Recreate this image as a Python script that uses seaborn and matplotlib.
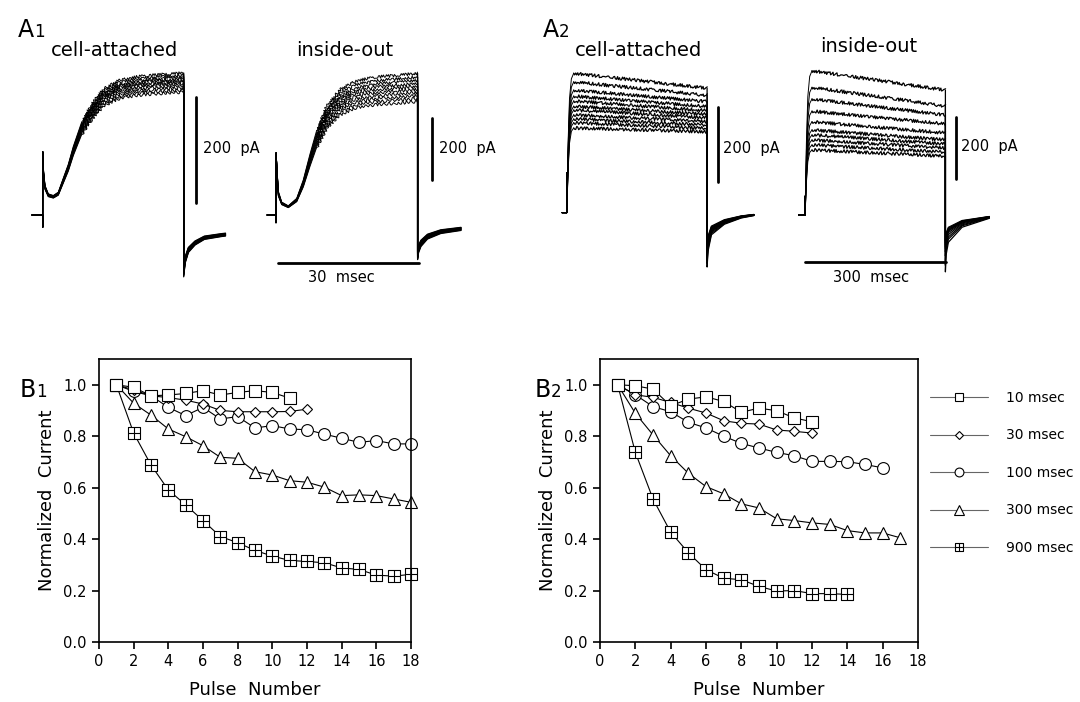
import numpy as np
import pandas as pd
import matplotlib
matplotlib.use("Agg")
import matplotlib.pyplot as plt
import seaborn as sns
from matplotlib.path import Path
from matplotlib.lines import Line2D

W, H = 1080, 702

# ---------------- B panels: normalized current vs pulse number ----------------
durations = ["10 msec", "30 msec", "100 msec", "300 msec", "900 msec"]

b1_10 = [1.0, 0.99, 0.957, 0.96, 0.966, 0.977, 0.96, 0.97, 0.977, 0.97, 0.948]
b1_30 = [1.0, 0.98, 0.957, 0.95, 0.94, 0.925, 0.90, 0.895, 0.895, 0.895, 0.896, 0.905]
b1_100 = [1.0, 0.974, 0.957, 0.912, 0.88, 0.912, 0.867, 0.876, 0.832, 0.841, 0.828,
          0.825, 0.808, 0.792, 0.776, 0.783, 0.77, 0.77]
b1_300 = [1.0, 0.928, 0.882, 0.828, 0.798, 0.763, 0.718, 0.714, 0.662, 0.649, 0.627,
          0.621, 0.602, 0.569, 0.572, 0.569, 0.556, 0.543]
b1_900 = [1.0, 0.812, 0.688, 0.591, 0.533, 0.472, 0.41, 0.386, 0.356, 0.334, 0.317,
          0.313, 0.308, 0.288, 0.282, 0.26, 0.256, 0.263]

b2_10 = [1.0, 0.996, 0.983, 0.918, 0.944, 0.953, 0.935, 0.893, 0.909, 0.899, 0.871, 0.856]
b2_30 = [1.0, 0.961, 0.951, 0.931, 0.909, 0.89, 0.86, 0.85, 0.847, 0.824, 0.819, 0.812]
b2_100 = [1.0, 0.961, 0.915, 0.895, 0.854, 0.832, 0.8, 0.772, 0.754, 0.737, 0.724,
          0.702, 0.702, 0.701, 0.69, 0.677]
b2_300 = [1.0, 0.889, 0.805, 0.724, 0.656, 0.604, 0.576, 0.537, 0.521, 0.479, 0.472,
          0.463, 0.457, 0.433, 0.424, 0.424, 0.405]
b2_900 = [1.0, 0.737, 0.556, 0.427, 0.347, 0.281, 0.248, 0.242, 0.216, 0.198, 0.2,
          0.188, 0.188, 0.185]

# ---------------- A panels: current traces (time in ms, current in pA) ----------------
# A1 cell-attached, 30 msec pulses
a1_ca_t = [0.13, 0.49, 1.19, 2.26, 3.32, 4.38, 5.45, 6.51, 8.3, 10.4, 12.9, 16.4, 20.0, 23.5, 30.0]
a1_ca_i = [85, 53, 38, 35, 41, 66, 91, 123, 167, 198, 226, 242, 248, 251, 255]
a1_ca_levels = [268, 264, 260, 257, 254, 251, 248, 244, 240, 236, 232]
a1_ca_cap = [-23, 119]
a1_ca_tail_dt = [0, 0.3, 1.0, 2.4, 4.4, 8.0, 8.9]
a1_ca_tail_i = [-109, -85, -66, -53, -43, -38, -37]

# A1 inside-out
a1_io_t = [0.49, 1.21, 2.61, 4.39, 5.78, 7.2, 8.62, 10.74, 13.5, 17.0, 21.3, 25.5, 30.0]
a1_io_i = [70, 38, 27, 49, 103, 179, 249, 319, 368, 395, 406, 411, 417]
a1_io_levels = [460, 448, 437, 427, 418, 408, 398, 388, 378, 368]
a1_io_cap = [-25, 202]
a1_io_tail_dt = [0, 0.2, 0.7, 2.1, 4.9, 9.2]
a1_io_tail_i = [-130, -110, -92, -70, -54, -45]

# A2, 300 msec pulses: onset shape as fraction of the initial level
a2_rise_t = [0, 1, 3, 6, 10, 15]
a2_rise_frac = [0, 0.15, 0.5, 0.82, 0.96, 1.0]

# A2 cell-attached
a2_ca_start = [372, 349, 327, 311, 298, 284, 274, 261, 250, 240, 226]
a2_ca_end = [332, 313, 296, 283, 272, 262, 253, 243, 234, 225, 216]
a2_ca_cap = 106
a2_ca_tail_dt = [0, 2, 9.2, 37, 73, 100]
a2_ca_tail_i = [-113, -80, -46, -24, -11, -6]

# A2 inside-out
a2_io_start = [461, 408, 371, 332, 298, 272, 256, 240, 224, 208]
a2_io_end = [399, 348, 319, 291, 262, 240, 227, 214, 201, 188]
a2_io_cap = 60
a2_io_tail_dt = [0, 1.5, 6.4, 35.7, 94]
a2_io_tail_i = [-121, -85, -58, -26, -7]

# ---------------- style ----------------
sns.set_style("ticks")
plt.rcParams["font.family"] = ["DejaVu Sans"]
plt.rcParams["axes.linewidth"] = 1.2
for key in ["text.color", "axes.labelcolor", "xtick.color", "ytick.color", "axes.edgecolor"]:
    plt.rcParams[key] = "black"

fig = plt.figure(figsize=(W / 100, H / 100), dpi=100)


def ftext(x, y, s, **kw):
    return fig.text(x / W, 1 - y / H, s, **kw)


def trace_axes(t0_px, base_px, px_ms, px_pA):
    ax = fig.add_axes([0, 0, 1, 1])
    ax.set_xlim(-t0_px / px_ms, (W - t0_px) / px_ms)
    ax.set_ylim((base_px - H) / px_pA, base_px / px_pA)
    ax.set_axis_off()
    ax.patch.set_alpha(0)
    return ax


def draw_a1(ax, t, cur, levels, cap, pre_t, tail_dt, tail_i, split=8.0):
    ref = cur[-1]
    mean_lv = np.mean(levels)
    k = int(np.searchsorted(t, split))
    for n, lv in enumerate(levels):
        f = lv / ref
        ii = [v * f for v in cur]
        ax.plot([pre_t, 0, 0, 0.02] + t[:k + 1], [0, 0, cap[0], cap[1]] + ii[:k + 1],
                color="black", lw=0.7)
        ln, = ax.plot(t[k:], ii[k:], color="black", lw=0.7)
        ln.set_sketch_params(1.5, 2.2 + 0.25 * n, 2)
        g = lv / mean_lv
        te = t[-1]
        ax.plot([te] + [te + d for d in tail_dt], [ii[-1]] + [v * g for v in tail_i],
                color="black", lw=0.9)


def draw_a2(ax, start, end, cap, pre_t, tail_dt, tail_i, t_end=300):
    mean_s = np.mean(start)
    for n, (s, e) in enumerate(zip(start, end)):
        ax.plot([pre_t, 0, 0, 0.3], [0, 0, cap, cap * 0.6], color="black", lw=0.7)
        ax.plot(a2_rise_t, [f * s for f in a2_rise_frac], color="black", lw=0.7)
        ln, = ax.plot([a2_rise_t[-1], t_end], [s, e], color="black", lw=0.9)
        ln.set_sketch_params(1.6, 2.0 + 0.15 * n, 2)
        g = s / mean_s
        ax.plot([t_end] + [t_end + d for d in tail_dt], [e] + [v * g for v in tail_i],
                color="black", lw=0.9)


# A1 cell-attached
ax = trace_axes(42.7, 215, 4.7, 0.53)
draw_a1(ax, a1_ca_t, a1_ca_i, a1_ca_levels, a1_ca_cap, -2.3, a1_ca_tail_dt, a1_ca_tail_i)
ax.plot([32.6, 32.6], [23, 223], color="black", lw=2)

# A1 inside-out
ax = trace_axes(276, 215, 4.72, 0.308)
draw_a1(ax, a1_io_t, a1_io_i, a1_io_levels, a1_io_cap, -1.9, a1_io_tail_dt, a1_io_tail_i)
ax.plot([33.0, 33.0], [114, 314], color="black", lw=2)
ax.plot([0.36, 30.36], [-157, -157], color="black", lw=2)

# A2 cell-attached
ax = trace_axes(566.7, 212.7, 0.468, 0.375)
draw_a2(ax, a2_ca_start, a2_ca_end, a2_ca_cap, -10, a2_ca_tail_dt, a2_ca_tail_i)
ax.plot([323, 323], [83, 283], color="black", lw=2)

# A2 inside-out
ax = trace_axes(805, 215, 0.468, 0.313)
draw_a2(ax, a2_io_start, a2_io_end, a2_io_cap, -14, a2_io_tail_dt, a2_io_tail_i)
ax.plot([323, 323], [114, 314], color="black", lw=2)
ax.plot([1, 301], [-151, -151], color="black", lw=2)

# A texts
ftext(18, 37, "A", fontsize=17, va="baseline")
ftext(34, 37, "1", fontsize=12, va="baseline")
ftext(543, 37, "A", fontsize=17, va="baseline")
ftext(559, 37, "2", fontsize=12, va="baseline")
for x, y, s in [(115, 50, "cell-attached"), (345, 50, "inside-out"),
                (639, 50, "cell-attached"), (869, 47, "inside-out")]:
    ftext(x, y, s, fontsize=14, ha="center", va="center")
for x, y in [(203, 148), (439, 148), (723, 148), (961, 147)]:
    ftext(x, y, "200  pA", fontsize=10.5, ha="left", va="center")
ftext(341, 278, "30  msec", fontsize=10.5, ha="center", va="center")
ftext(871, 278, "300  msec", fontsize=10.5, ha="center", va="center")

# ---------------- B panels ----------------
sq_plus = Path([(-1, -1), (1, -1), (1, 1), (-1, 1), (-1, -1), (0, -1), (0, 1), (-1, 0), (1, 0)],
               [Path.MOVETO, Path.LINETO, Path.LINETO, Path.LINETO, Path.CLOSEPOLY,
                Path.MOVETO, Path.LINETO, Path.MOVETO, Path.LINETO])
markers = {"10 msec": "s", "30 msec": "D", "100 msec": "o", "300 msec": "^", "900 msec": sq_plus}
msizes = {"10 msec": 8, "30 msec": 5.6, "100 msec": 8.5, "300 msec": 9, "900 msec": 8}


def long_table(series):
    rows = []
    for lab, vals in zip(durations, series):
        for n, v in enumerate(vals, start=1):
            rows.append({"pulse": n, "norm": v, "duration": lab})
    return pd.DataFrame(rows)


df_b1 = long_table([b1_10, b1_30, b1_100, b1_300, b1_900])
df_b2 = long_table([b2_10, b2_30, b2_100, b2_300, b2_900])

axes_b = [fig.add_axes([99 / W, 1 - 642 / H, 312 / W, 283 / H]),
          fig.add_axes([600 / W, 1 - 642 / H, 318 / W, 283 / H])]

for ax, df in zip(axes_b, [df_b1, df_b2]):
    for lab in durations[::-1]:
        sub = df[df["duration"] == lab]
        sns.lineplot(data=sub, x="pulse", y="norm", ax=ax, color="black", lw=0.8,
                     marker=markers[lab], markersize=msizes[lab], markerfacecolor="white",
                     markeredgecolor="black", markeredgewidth=0.8, estimator=None,
                     clip_on=False)
    ax.set_xlim(0, 18)
    ax.set_ylim(0, 1.1)
    ax.set_xticks(range(0, 19, 2))
    ax.set_yticks([0, 0.2, 0.4, 0.6, 0.8, 1.0])
    ax.set_yticklabels(["0.0", "0.2", "0.4", "0.6", "0.8", "1.0"])
    ax.tick_params(direction="out", length=5, width=1.2, labelsize=10.5, pad=4)
    for sp in ax.spines.values():
        sp.set_visible(True)
        sp.set_linewidth(1.2)
    ax.set_xlabel("Pulse  Number", fontsize=13, labelpad=8)
    ax.set_ylabel("Normalized  Current", fontsize=13, labelpad=5)

ftext(20, 397, "B", fontsize=17, va="baseline")
ftext(36, 397, "1", fontsize=12, va="baseline")
ftext(535, 397, "B", fontsize=17, va="baseline")
ftext(551, 397, "2", fontsize=12, va="baseline")

handles = [Line2D([], [], color="#666666", lw=0.8, marker=markers[lab], markersize=msizes[lab] * 0.75,
                  markerfacecolor="white", markeredgecolor="black", markeredgewidth=0.8)
           for lab in durations]
axes_b[1].legend(handles, durations, loc="upper left", bbox_to_anchor=(930 / W, 1 - 391 / H),
                 bbox_transform=fig.transFigure, frameon=False, fontsize=10, handlelength=4.2,
                 handletextpad=1.3, labelspacing=1.69, borderpad=0, borderaxespad=0)

fig.savefig("out.png", dpi=100)
